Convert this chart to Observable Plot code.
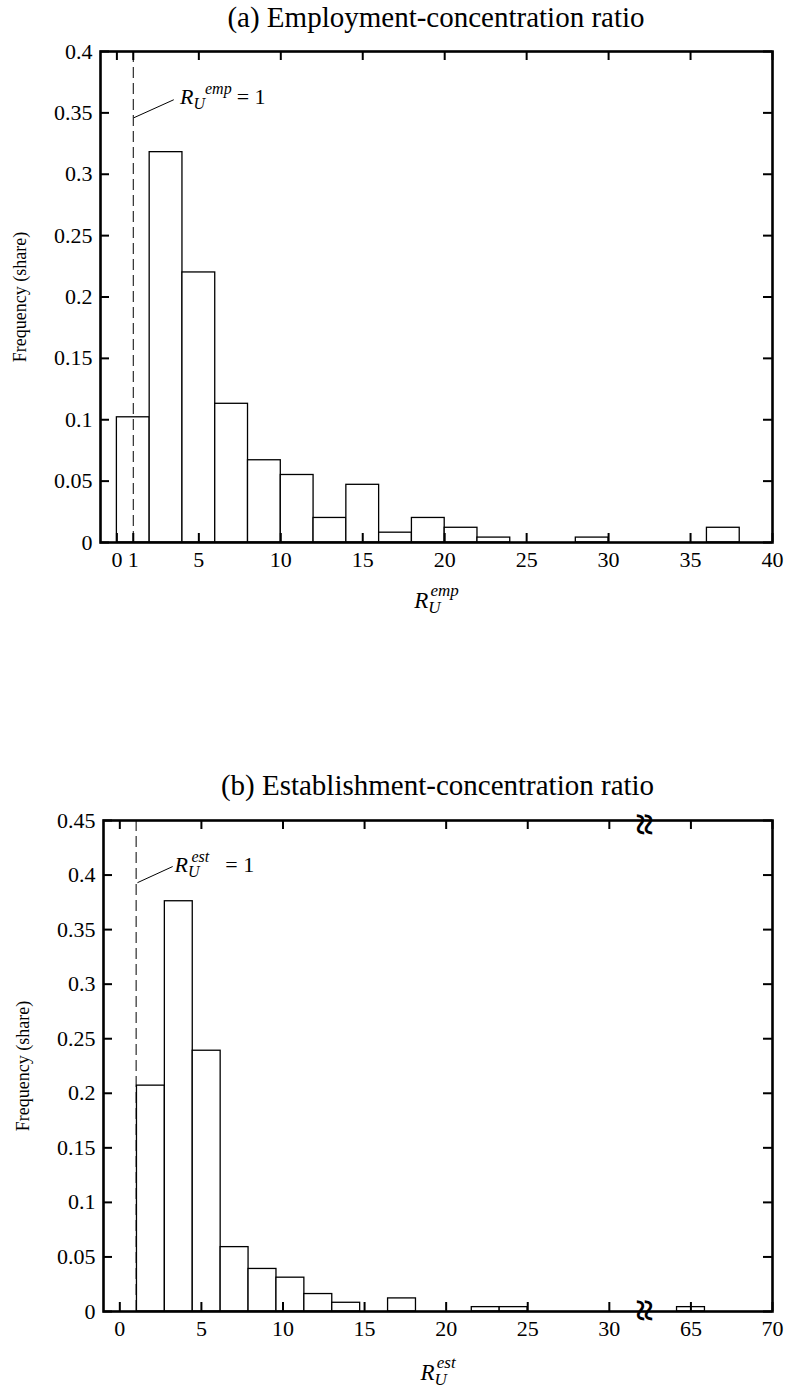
<!DOCTYPE html>
<html><head><meta charset="utf-8">
<script src="https://cdn.jsdelivr.net/npm/d3@7"></script>
<script src="https://cdn.jsdelivr.net/npm/@observablehq/plot@0.6"></script>
<style>
body{margin:0;background:#fff;}
#page{position:relative;width:785px;height:1387px;font-family:"Liberation Serif","Times New Roman",serif;color:#000;}
#page svg text{font-family:"Liberation Serif","Times New Roman",serif !important;}
.title{position:absolute;text-align:center;font-size:29px;line-height:34px;height:34px;white-space:nowrap;}
.chart{position:absolute;left:0;}
</style></head><body>
<div id="page">
<div class="title" id="ta" style="top:0px;left:100px;width:672px">(a) Employment-concentration ratio</div>
<div class="chart" id="ca" style="top:34px"></div>
<div class="title" id="tb" style="top:768px;left:103px;width:669px">(b) Establishment-concentration ratio</div>
<div class="chart" id="cb" style="top:802px"></div>
</div>
<script>
// ---------- data: (a) employment-concentration ratio ----------
const empBinStart = [0, 2, 4, 6, 8, 10, 12, 14, 16, 18, 20, 22, 28, 36];
const empBinEnd   = [2, 4, 6, 8, 10, 12, 14, 16, 18, 20, 22, 24, 30, 38];
const empShare    = [0.102, 0.318, 0.220, 0.113, 0.067, 0.055, 0.020, 0.047, 0.008, 0.020, 0.012, 0.004, 0.004, 0.012];
const empXTicks = [0, 1, 5, 10, 15, 20, 25, 30, 35, 40];
const empYTicks = [0, 0.05, 0.1, 0.15, 0.2, 0.25, 0.3, 0.35, 0.4];
const empLeader = [{x1: 1.03, y1: 0.346, x2: 3.47, y2: 0.3607}];
const empNote = [{x: 3.85, y: 0.357, label: "R_U^emp = 1"}];

// ---------- data: (b) establishment-concentration ratio ----------
const estBinStart = [1.05, 2.76, 4.47, 6.18, 7.89, 9.60, 11.31, 13.02, 16.44, 21.57, 23.28, 64.15];
const estBinEnd   = [2.76, 4.47, 6.18, 7.89, 9.60, 11.31, 13.02, 14.73, 18.15, 23.28, 24.99, 65.86];
const estShare    = [0.207, 0.376, 0.239, 0.059, 0.039, 0.031, 0.016, 0.008, 0.012, 0.004, 0.004, 0.004];
const estXTicks = [0, 5, 10, 15, 20, 25, 30, 35, 40];
const estXTickLabels = ["0", "5", "10", "15", "20", "25", "30", "65", "70"];
const estYTicks = [0, 0.05, 0.1, 0.15, 0.2, 0.25, 0.3, 0.35, 0.4, 0.45];
const estBreakAt = 32;      // axis position of the break
const estBreakShift = 30;   // values above the break are shifted by this
const estLeader = [{x1: 1.08, y1: 0.393, x2: 3.24, y2: 0.4078}];
const estNote = [{x: 3.35, y: 0.4031, label: "R_U^est = 1"}];

const FONT = "Liberation Serif, Times New Roman, serif";
const NS = "http://www.w3.org/2000/svg";
const fmtY = d => String(+d.toFixed(2));
const brk = v => v > estBreakAt ? v - estBreakShift : v;

function mathText(svg, marker, parts) {
  for (const el of svg.querySelectorAll("text")) {
    if (el.textContent === marker) {
      el.textContent = "";
      for (const p of parts) {
        const ts = document.createElementNS(NS, "tspan");
        ts.textContent = p.t;
        if (p.italic) ts.setAttribute("font-style", "italic");
        if (p.size) ts.setAttribute("font-size", p.size);
        if (p.dx) ts.setAttribute("dx", p.dx);
        if (p.dy) ts.setAttribute("dy", p.dy);
        el.appendChild(ts);
      }
    }
  }
}

function frameMarks(xTicks, yTicks, W, H, xFmt) {
  const tl = 9, sw = 2;
  return [
    Plot.ruleX(xTicks, {x: d => d, insetTop: H - tl, stroke: "black", strokeWidth: sw}),
    Plot.ruleX(xTicks, {x: d => d, insetBottom: H - tl, stroke: "black", strokeWidth: sw}),
    Plot.ruleY(yTicks, {y: d => d, insetRight: W - tl, stroke: "black", strokeWidth: sw}),
    Plot.ruleY(yTicks, {y: d => d, insetLeft: W - tl, stroke: "black", strokeWidth: sw}),
    Plot.frame({stroke: "black", strokeWidth: 2.6}),
    Plot.axisX({ticks: xTicks, tickFormat: xFmt, tickSize: 0, tickPadding: 9, fontSize: 22, label: null, fontFamily: FONT}),
    Plot.axisY({ticks: yTicks, tickFormat: fmtY, tickSize: 0, tickPadding: 8, fontSize: 22, label: null, fontFamily: FONT})
  ];
}

// ---------- chart (a) ----------
{
  const width = 785, height = 726, mT = 17, mB = 218, mL = 100, mR = 13;
  const W = width - mL - mR, H = height - mT - mB;
  const bars = empShare.map((v, i) => ({x1: empBinStart[i], x2: empBinEnd[i], y: v}));
  const svg = Plot.plot({
    width, height, marginTop: mT, marginBottom: mB, marginLeft: mL, marginRight: mR,
    style: {fontFamily: FONT, fontSize: "20px", background: "white", color: "black", overflow: "visible"},
    x: {domain: [-1, 40], axis: null},
    y: {domain: [0, 0.4], axis: null},
    marks: [
      Plot.rectY(bars, {x1: "x1", x2: "x2", y: "y", fill: "white", stroke: "black", strokeWidth: 1.3}),
      Plot.ruleX([1], {stroke: "black", strokeWidth: 1, strokeDasharray: "11,5"}),
      Plot.link(empLeader, {x1: "x1", y1: "y1", x2: "x2", y2: "y2", stroke: "black", strokeWidth: 1}),
      Plot.text(empNote, {x: "x", y: "y", text: "label", textAnchor: "start", lineAnchor: "bottom", fontSize: 22, fontFamily: FONT}),
      ...frameMarks(empXTicks, empYTicks, W, H, d => String(d)),
      Plot.text(["Frequency (share)"], {frameAnchor: "left", dx: -80, rotate: -90, textAnchor: "middle", lineAnchor: "middle", fontSize: 18, fontFamily: FONT}),
      Plot.text(["R_U^emp"], {frameAnchor: "bottom", dy: 65, lineAnchor: "bottom", textAnchor: "middle", fontSize: 23, fontFamily: FONT})
    ]
  });
  mathText(svg, "R_U^emp = 1", [
    {t: "R", italic: true}, {t: "U", italic: true, size: 16, dy: 5},
    {t: "emp", italic: true, size: 16, dx: 0, dy: -15}, {t: "= 1", dx: 5, dy: 10}
  ]);
  mathText(svg, "R_U^emp", [
    {t: "R", italic: true}, {t: "U", italic: true, size: 17, dy: 5},
    {t: "emp", italic: true, size: 17, dx: -10, dy: -17}
  ]);
  document.getElementById("ca").appendChild(svg);
}

// ---------- chart (b) ----------
{
  const width = 785, height = 585, mT = 18, mB = 76, mL = 103, mR = 13;
  const W = width - mL - mR, H = height - mT - mB;
  const bars = estShare.map((v, i) => ({x1: brk(estBinStart[i]), x2: brk(estBinEnd[i]), y: v}));
  const svg = Plot.plot({
    width, height, marginTop: mT, marginBottom: mB, marginLeft: mL, marginRight: mR,
    style: {fontFamily: FONT, fontSize: "20px", background: "white", color: "black", overflow: "visible"},
    x: {domain: [-1, 40], axis: null},
    y: {domain: [0, 0.45], axis: null},
    marks: [
      Plot.rectY(bars, {x1: "x1", x2: "x2", y: "y", fill: "white", stroke: "black", strokeWidth: 1.3}),
      Plot.ruleX([1], {stroke: "black", strokeWidth: 1, strokeDasharray: "11,5"}),
      Plot.link(estLeader, {x1: "x1", y1: "y1", x2: "x2", y2: "y2", stroke: "black", strokeWidth: 1}),
      Plot.text(estNote, {x: "x", y: "y", text: "label", textAnchor: "start", lineAnchor: "bottom", fontSize: 22, fontFamily: FONT}),
      ...frameMarks(estXTicks, estYTicks, W, H, d => estXTickLabels[estXTicks.indexOf(d)]),
      Plot.text([estBreakAt], {x: d => d, frameAnchor: "bottom", text: () => "\u2248", rotate: 90, textAnchor: "middle", lineAnchor: "middle", dx: 2, dy: -1, fontSize: 40, fontWeight: "bold", fontFamily: FONT}),
      Plot.text([estBreakAt], {x: d => d, frameAnchor: "top", text: () => "\u2248", rotate: 90, textAnchor: "middle", lineAnchor: "middle", dx: 2, dy: 4, fontSize: 40, fontWeight: "bold", fontFamily: FONT}),
      Plot.text(["Frequency (share)"], {frameAnchor: "left", dx: -80, rotate: -90, textAnchor: "middle", lineAnchor: "middle", fontSize: 18, fontFamily: FONT}),
      Plot.text(["R_U^est"], {frameAnchor: "bottom", dy: 68, lineAnchor: "bottom", textAnchor: "middle", fontSize: 23, fontFamily: FONT})
    ]
  });
  mathText(svg, "R_U^est = 1", [
    {t: "R", italic: true}, {t: "U", italic: true, size: 16, dy: 5},
    {t: "est", italic: true, size: 16, dx: -8, dy: -15}, {t: "= 1", dx: 16, dy: 10}
  ]);
  mathText(svg, "R_U^est", [
    {t: "R", italic: true}, {t: "U", italic: true, size: 17, dy: 5},
    {t: "est", italic: true, size: 17, dx: -10, dy: -17}
  ]);
  document.getElementById("cb").appendChild(svg);
}
</script>
</body></html>
